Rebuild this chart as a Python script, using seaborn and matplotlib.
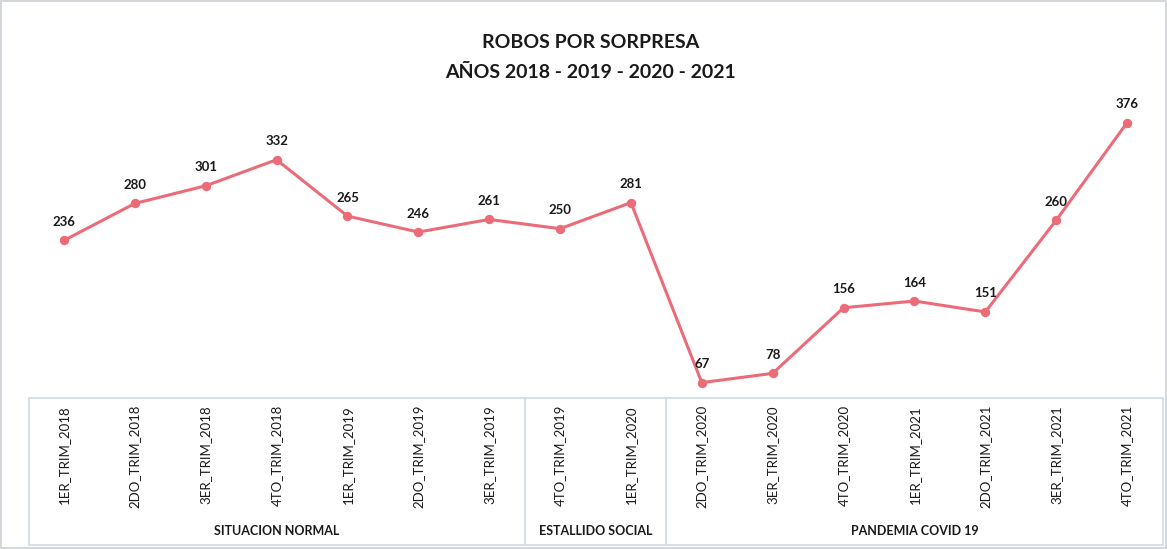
# Robos por sorpresa 2018-2021

import pandas as pd
import matplotlib.pyplot as plt
import matplotlib.transforms as mtransforms
from matplotlib.patches import Rectangle
import seaborn as sns

# Data
trimestres = ['1ER_TRIM_2018', '2DO_TRIM_2018', '3ER_TRIM_2018', '4TO_TRIM_2018',
              '1ER_TRIM_2019', '2DO_TRIM_2019', '3ER_TRIM_2019', '4TO_TRIM_2019',
              '1ER_TRIM_2020', '2DO_TRIM_2020', '3ER_TRIM_2020', '4TO_TRIM_2020',
              '1ER_TRIM_2021', '2DO_TRIM_2021', '3ER_TRIM_2021', '4TO_TRIM_2021']
robos = [236, 280, 301, 332, 265, 246, 261, 250, 281, 67, 78, 156, 164, 151, 260, 376]
periodos = ['SITUACION NORMAL', 'ESTALLIDO SOCIAL', 'PANDEMIA COVID 19']
periodo_n = [7, 2, 7]

df = pd.DataFrame({'trimestre': trimestres, 'robos': robos})
df['pos'] = range(len(df))

sns.set_theme(style="white")
plt.rcParams['font.family'] = ['Lato', 'DejaVu Sans']

W, H = 1167, 549
fig = plt.figure(figsize=(W / 100, H / 100), dpi=100)
fig.patch.set_facecolor('white')
fig.patch.set_edgecolor('#d4d8dd')
fig.patch.set_linewidth(1.5)

ax = fig.add_axes([28.5 / W, 1 - 398 / H, (1162.5 - 28.5) / W, (398 - 100) / H])
ax.set_facecolor('none')

color = '#EB6C78'
sns.lineplot(data=df, x='pos', y='robos', ax=ax, color=color, linewidth=2.2,
             marker='o', markersize=6, markeredgecolor=color)

ax.set_xlim(-0.5, len(df) - 0.5)
ax.set_ylim(48.7, 403)
ax.set_xticks([])
ax.set_yticks([])
ax.set_xlabel('')
ax.set_ylabel('')
sns.despine(ax=ax, left=True, bottom=True)

# data labels
for p, v in zip(df['pos'], df['robos']):
    ax.annotate(str(v), (p, v), xytext=(0, 9), textcoords='offset points',
                ha='center', va='bottom', fontsize=9.5, fontweight='bold', color='#1a1a1a')

# category box below the plot
trans = mtransforms.blended_transform_factory(ax.transData, fig.transFigure)
box_top = 1 - 398 / H
box_bot = 1 - 545 / H
edge = '#cfdae6'
ax.add_patch(Rectangle((-0.5, box_bot), len(df), box_top - box_bot, transform=trans,
                       fill=False, edgecolor=edge, linewidth=1.2, clip_on=False))
start = -0.5
for nombre, n in zip(periodos, periodo_n):
    end = start + n
    if end < len(df) - 0.5:
        ax.plot([end, end], [box_bot, box_top], transform=trans, color=edge,
                linewidth=1.2, clip_on=False)
    ax.text((start + end) / 2, 1 - 531 / H, nombre, transform=trans, ha='center',
            va='center', fontsize=9, fontweight='bold', color='#1a1a1a')
    start = end

for p, t in zip(df['pos'], df['trimestre']):
    ax.text(p, 1 - 405 / H, t, transform=trans, rotation=90, ha='center', va='top',
            fontsize=9.5, color='#1a1a1a')

fig.text(0.506, 1 - 43 / H, 'ROBOS POR SORPRESA', ha='center', va='center',
         fontsize=14, fontweight='bold', color='#1a1a1a')
fig.text(0.506, 1 - 72 / H, 'AÑOS 2018 - 2019 - 2020 - 2021', ha='center', va='center',
         fontsize=14, fontweight='bold', color='#1a1a1a')

fig.savefig('out.png', dpi=100)
